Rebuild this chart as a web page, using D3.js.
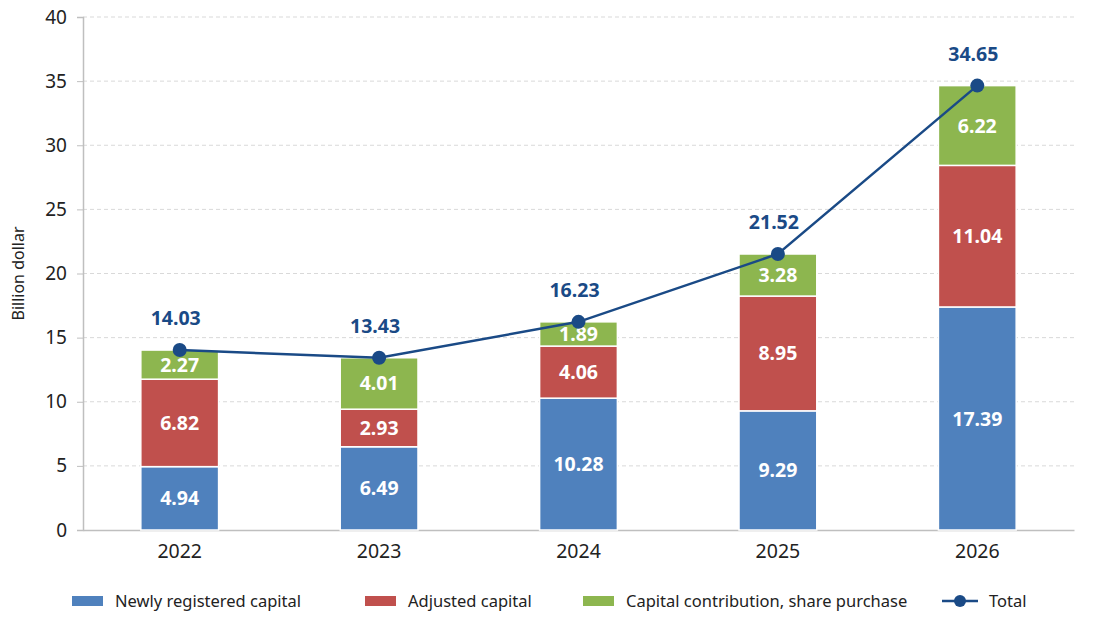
<!DOCTYPE html>
<html>
<head>
<meta charset="utf-8">
<script src="https://cdn.jsdelivr.net/npm/d3@7"></script>
<style>
  body { margin: 0; background: #fff; }
  svg { display: block; font-family: "Noto Sans", "Open Sans", sans-serif; }
</style>
</head>
<body>
<svg></svg>
<script>
// Data
const years = ["2022", "2023", "2024", "2025", "2026"];
const newlyRegistered = [4.94, 6.49, 10.28, 9.29, 17.39];
const adjustedCapital = [6.82, 2.93, 4.06, 8.95, 11.04];
const capitalContribution = [2.27, 4.01, 1.89, 3.28, 6.22];
const totals = [14.03, 13.43, 16.23, 21.52, 34.65];
const yTicks = [0, 5, 10, 15, 20, 25, 30, 35, 40];

const seriesNames = ["Newly registered capital", "Adjusted capital", "Capital contribution, share purchase"];
const colors = ["#4f81bd", "#c0504d", "#8db64f"];
const lineColor = "#1a4a86";

const width = 1095, height = 638;
const margin = { top: 17, right: 21, bottom: 108, left: 83 };
const innerW = width - margin.left - margin.right;
const innerH = height - margin.top - margin.bottom;

const svg = d3.select("svg").attr("width", width).attr("height", height);
const g = svg.append("g").attr("transform", `translate(${margin.left},${margin.top})`);

const x = d3.scaleBand().domain(years).range([0, innerW]).paddingInner(0.61).paddingOuter(0.29);
const y = d3.scaleLinear().domain([0, 40]).range([innerH, 0]);

// grid lines
g.append("g").selectAll("line")
  .data(yTicks.filter(d => d > 0))
  .join("line")
  .attr("x1", 0).attr("x2", innerW)
  .attr("y1", d => y(d)).attr("y2", d => y(d))
  .attr("stroke", "#d9d9d9")
  .attr("stroke-dasharray", "4,3")
  .attr("stroke-width", 1);

// y axis
const yAxis = g.append("g")
  .call(d3.axisLeft(y).tickValues(yTicks).tickSize(6).tickPadding(10));
yAxis.select(".domain").attr("stroke", "#bfbfbf").attr("stroke-width", 1.5);
yAxis.selectAll(".tick line").attr("stroke", "#bfbfbf");
yAxis.selectAll(".tick text").attr("font-size", 19).attr("fill", "#222")
  .attr("font-family", "Noto Sans, sans-serif");

// x axis
const xAxis = g.append("g")
  .attr("transform", `translate(0,${innerH})`)
  .call(d3.axisBottom(x).tickSize(0).tickPadding(14));
xAxis.select(".domain").attr("stroke", "#bfbfbf").attr("stroke-width", 1.5);
xAxis.selectAll(".tick text").attr("font-size", 19.5).attr("fill", "#222")
  .attr("font-family", "Noto Sans, sans-serif");

// y axis title
svg.append("text")
  .attr("transform", `translate(24,${margin.top + y(20)}) rotate(-90)`)
  .attr("text-anchor", "middle")
  .attr("font-size", 16)
  .attr("fill", "#222")
  .text("Billion dollar");

// stacked bars
const rows = years.map((yr, i) => ({
  year: yr,
  s0: newlyRegistered[i],
  s1: adjustedCapital[i],
  s2: capitalContribution[i]
}));
const stack = d3.stack().keys(["s0", "s1", "s2"])(rows);

const layers = g.selectAll(".layer")
  .data(stack)
  .join("g")
  .attr("class", "layer")
  .attr("fill", (d, i) => colors[i]);

layers.selectAll("rect")
  .data(d => d)
  .join("rect")
  .attr("x", d => x(d.data.year))
  .attr("y", d => y(d[1]))
  .attr("width", x.bandwidth())
  .attr("height", d => y(d[0]) - y(d[1]))
  .attr("stroke", "#fff")
  .attr("stroke-width", 1.5);

layers.selectAll("text")
  .data(d => d)
  .join("text")
  .attr("x", d => x(d.data.year) + x.bandwidth() / 2)
  .attr("y", d => (y(d[0]) + y(d[1])) / 2)
  .attr("dy", "0.36em")
  .attr("text-anchor", "middle")
  .attr("font-size", 19.5)
  .attr("font-weight", "bold")
  .attr("fill", "#fff")
  .text(d => (d[1] - d[0]).toFixed(2));

// total line
const line = d3.line()
  .x((d, i) => x(years[i]) + x.bandwidth() / 2)
  .y(d => y(d));

g.append("path")
  .datum(totals)
  .attr("fill", "none")
  .attr("stroke", lineColor)
  .attr("stroke-width", 2.5)
  .attr("d", line);

g.selectAll(".dot")
  .data(totals)
  .join("circle")
  .attr("class", "dot")
  .attr("cx", (d, i) => x(years[i]) + x.bandwidth() / 2)
  .attr("cy", d => y(d))
  .attr("r", 7)
  .attr("fill", lineColor);

g.selectAll(".total-label")
  .data(totals)
  .join("text")
  .attr("class", "total-label")
  .attr("x", (d, i) => x(years[i]) + x.bandwidth() / 2 - 4)
  .attr("y", d => y(d) - 25)
  .attr("text-anchor", "middle")
  .attr("font-size", 19.5)
  .attr("font-weight", "bold")
  .attr("fill", lineColor)
  .text(d => d.toFixed(2));

// legend
const legendY = 601;
const legendX = [72, 365, 583];
seriesNames.forEach((name, i) => {
  svg.append("rect")
    .attr("x", legendX[i]).attr("y", legendY - 5)
    .attr("width", 31).attr("height", 10)
    .attr("fill", colors[i]);
  svg.append("text")
    .attr("x", legendX[i] + 43).attr("y", legendY)
    .attr("dy", "0.35em")
    .attr("font-size", 16.5)
    .attr("fill", "#222")
    .text(name);
});
svg.append("line")
  .attr("x1", 942).attr("x2", 978)
  .attr("y1", legendY).attr("y2", legendY)
  .attr("stroke", lineColor).attr("stroke-width", 2.5);
svg.append("circle")
  .attr("cx", 960).attr("cy", legendY).attr("r", 6)
  .attr("fill", lineColor);
svg.append("text")
  .attr("x", 989).attr("y", legendY)
  .attr("dy", "0.35em")
  .attr("font-size", 16.5)
  .attr("fill", "#222")
  .text("Total");
</script>
</body>
</html>
